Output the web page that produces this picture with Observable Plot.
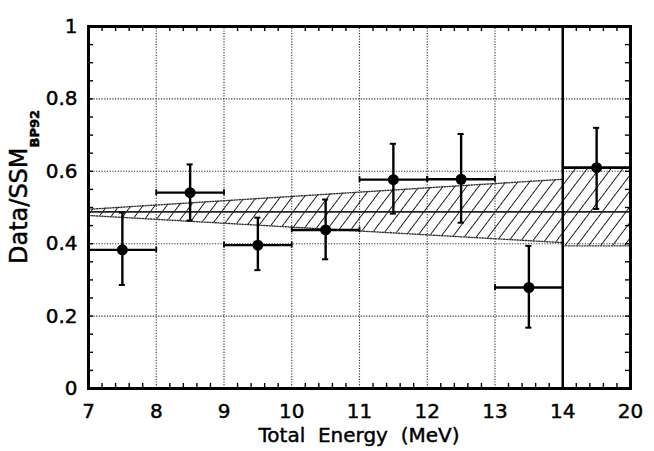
<!DOCTYPE html>
<html>
<head>
<meta charset="utf-8">
<script src="https://cdn.jsdelivr.net/npm/d3@7"></script>
<script src="https://cdn.jsdelivr.net/npm/@observablehq/plot@0.6"></script>
<style>
  html, body { margin: 0; padding: 0; background: #fff; }
  #chart svg { display: block; }
  #chart svg text { stroke: black; stroke-width: 0.45px; }
</style>
</head>
<body>
<div id="chart"></div>
<script>
// Energy bins (axis units: the last bin 14–20 MeV is drawn as one unit, 14→15)
const binLo = [7, 8, 9, 10, 11, 12, 13, 14];
const binHi = [8, 9, 10, 11, 12, 13, 14, 15];
const binMid = [7.5, 8.5, 9.5, 10.5, 11.5, 12.5, 13.5, 14.5];
// Data / SSM(BP92) ratio with error bar ends
const ratio   = [0.383, 0.541, 0.396, 0.438, 0.577, 0.578, 0.279, 0.610];
const errLow  = [0.286, 0.464, 0.327, 0.357, 0.483, 0.458, 0.168, 0.496];
const errHigh = [0.486, 0.619, 0.472, 0.522, 0.676, 0.703, 0.394, 0.720];
// Hatched theoretical band (7–14 MeV, widening), and the 14–20 MeV box
const bandX  = [7, 14];
const bandLo = [0.478, 0.403];
const bandHi = [0.495, 0.578];
const boxX  = [14, 15];
const boxLo = [0.394, 0.394];
const boxHi = [0.612, 0.612];
const bandCenter = 0.488;
// Axis ticks
const xTicks = [7, 8, 9, 10, 11, 12, 13, 14, 15];
const xTickLabels = ["7", "8", "9", "10", "11", "12", "13", "14", "20"];
const yTicks = [0, 0.2, 0.4, 0.6, 0.8, 1];
const xGrid = [8, 9, 10, 11, 12, 13];
const yGrid = [0.2, 0.4, 0.6, 0.8];
const xLabel = "Total  Energy  (MeV)";
const yLabelMain = "Data/SSM";
const yLabelSub = "BP92";

const points = binMid.map((x, i) => ({x, lo: binLo[i], hi: binHi[i], v: ratio[i], eLo: errLow[i], eHi: errHigh[i]}));
const band = bandX.map((x, i) => ({x, lo: bandLo[i], hi: bandHi[i]}));
const box = boxX.map((x, i) => ({x, lo: boxLo[i], hi: boxHi[i]}));
const minorX = d3.range(7, 15.001, 0.2).filter(d => Math.abs(d - Math.round(d)) > 1e-6);
const minorY = d3.range(0, 1.0001, 0.05);

const capW = 0.045, capH = 0.008;
const tickLenY = 0.014, tickLenX = 0.075;
const dotted = {stroke: "#333", strokeWidth: 1.1, strokeDasharray: "1.2,1.5"};

const chart = Plot.plot({
  width: 654,
  height: 451,
  marginLeft: 88,
  marginRight: 24,
  marginTop: 26,
  marginBottom: 63,
  style: {fontFamily: "DejaVu Sans", fontSize: "20px", background: "white", color: "black"},
  x: {domain: [7, 15], axis: null},
  y: {domain: [0, 1], axis: null},
  marks: [
    // grid
    Plot.ruleX(xGrid, {x: d => d, y1: 0, y2: 1, ...dotted}),
    Plot.ruleY(yGrid, {y: d => d, x1: 7, x2: 15, ...dotted}),
    // hatched band
    Plot.areaY(band, {x: "x", y1: "lo", y2: "hi", fill: "url(#hatch)"}),
    Plot.areaY(box, {x: "x", y1: "lo", y2: "hi", fill: "url(#hatch)"}),
    Plot.line(band, {x: "x", y: "hi", ...dotted, strokeWidth: 1.4}),
    Plot.line(band, {x: "x", y: "lo", ...dotted, strokeWidth: 1.4}),
    Plot.line(box, {x: "x", y: "hi", ...dotted, strokeWidth: 1.4}),
    Plot.line(box, {x: "x", y: "lo", ...dotted, strokeWidth: 1.4}),
    Plot.ruleY([bandCenter], {y: d => d, x1: 7, x2: 15, stroke: "#222", strokeWidth: 1.6}),
    // minor ticks
    Plot.ruleX(minorX, {x: d => d, y1: 0, y2: tickLenY, stroke: "black", strokeWidth: 1.4}),
    Plot.ruleX(minorX, {x: d => d, y1: 1 - tickLenY, y2: 1, stroke: "black", strokeWidth: 1.4}),
    Plot.ruleY(minorY, {y: d => d, x1: 7, x2: 7 + tickLenX, stroke: "black", strokeWidth: 1.4}),
    Plot.ruleY(minorY, {y: d => d, x1: 15 - tickLenX, x2: 15, stroke: "black", strokeWidth: 1.4}),
    // separator at 14 MeV
    Plot.ruleX([14], {x: d => d, y1: 0, y2: 1, stroke: "black", strokeWidth: 2.5}),
    // error bars
    Plot.ruleX(points, {x: "x", y1: "eLo", y2: "eHi", stroke: "black", strokeWidth: 2.4}),
    Plot.ruleY(points, {y: "eHi", x1: d => d.x - capW, x2: d => d.x + capW, stroke: "black", strokeWidth: 2}),
    Plot.ruleY(points, {y: "eLo", x1: d => d.x - capW, x2: d => d.x + capW, stroke: "black", strokeWidth: 2}),
    Plot.ruleY(points, {y: "v", x1: "lo", x2: "hi", stroke: "black", strokeWidth: 2.4}),
    Plot.ruleX(points, {x: "lo", y1: d => d.v - capH, y2: d => d.v + capH, stroke: "black", strokeWidth: 1.8}),
    Plot.ruleX(points, {x: "hi", y1: d => d.v - capH, y2: d => d.v + capH, stroke: "black", strokeWidth: 1.8}),
    Plot.dot(points, {x: "x", y: "v", r: 5.5, fill: "black", stroke: "none"}),
    // axes
    Plot.axisX(xTicks, {anchor: "bottom", tickSize: 0, tickPadding: 15, fontSize: 20,
      tickFormat: d => xTickLabels[xTicks.indexOf(d)], label: null}),
    Plot.axisY(yTicks, {anchor: "left", tickSize: 0, tickPadding: 11, fontSize: 20,
      tickFormat: d => String(d), label: null}),
    Plot.frame({stroke: "black", strokeWidth: 3})
  ]
});

const ns = "http://www.w3.org/2000/svg";
const defs = document.createElementNS(ns, "defs");
defs.innerHTML = '<pattern id="hatch" patternUnits="userSpaceOnUse" width="9.5" height="9.5" patternTransform="rotate(37)">' +
  '<line x1="0" y1="0" x2="0" y2="9.5" stroke="#000" stroke-width="1.7"/></pattern>';
chart.insertBefore(defs, chart.firstChild);

const svg = d3.select(chart);
svg.append("text")
  .attr("x", 359).attr("y", 442)
  .attr("text-anchor", "middle")
  .attr("font-family", "DejaVu Sans")
  .attr("font-size", 20)
  .attr("fill", "black")
  .style("white-space", "pre")
  .attr("xml:space", "preserve")
  .text(xLabel);

const yl = svg.append("text")
  .attr("transform", "translate(27,264) rotate(-90)")
  .attr("text-anchor", "start")
  .attr("font-family", "DejaVu Sans")
  .attr("font-size", 24)
  .attr("fill", "black");
yl.append("tspan").text(yLabelMain);
yl.append("tspan").attr("dy", 12).attr("font-size", 13).attr("font-weight", "bold").text(yLabelSub);

document.getElementById("chart").appendChild(chart);
</script>
</body>
</html>
